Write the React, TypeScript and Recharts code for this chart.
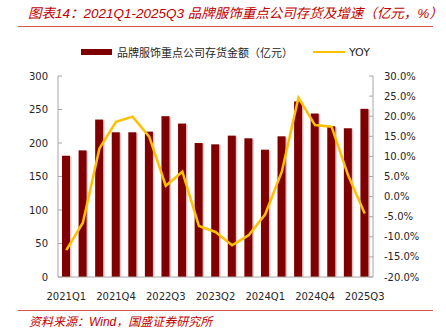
import { ComposedChart, Bar, Line, XAxis, YAxis } from 'recharts'

const quarters = [
  '2021Q1', '2021Q2', '2021Q3', '2021Q4', '2022Q1', '2022Q2', '2022Q3', '2022Q4',
  '2023Q1', '2023Q2', '2023Q3', '2023Q4', '2024Q1', '2024Q2', '2024Q3', '2024Q4',
  '2025Q1', '2025Q2', '2025Q3',
]
const inventory = [181, 189, 235, 216, 216, 217, 240, 229, 200, 198, 211, 207, 190, 210, 262, 244, 225, 222, 251]
const yoy = [-13.3, -6.5, 12.0, 18.6, 19.9, 14.9, 2.7, 6.2, -7.3, -8.8, -12.1, -9.6, -4.4, 6.2, 24.6, 17.8, 17.4, 5.3, -4.2]
const leftTicks = [0, 50, 100, 150, 200, 250, 300]
const rightTicks = [-20, -15, -10, -5, 0, 5, 10, 15, 20, 25, 30]

const BAR_NAME = '品牌服饰重点公司存货金额（亿元）'
const LINE_NAME = 'YOY'
const RED = '#C00000'
const BAR = '#7F0000'
const GOLD = '#FFC000'
const AXIS = '#A6A6A6'
const FONT = '"DejaVu Sans", Verdana, sans-serif'
const CJK = '"Noto Sans CJK SC", sans-serif'

const chartData = quarters.map((q, i) => ({ q, inv: inventory[i], yoy: yoy[i] }))

function ShadowBar(props: any) {
  const { x, y, width, height } = props
  if (!height || height <= 0) return null
  return (
    <g>
      <rect x={x + 1.5} y={y + 1} width={width} height={height - 1} fill="#E6C4C4" />
      <rect x={x} y={y} width={width} height={height} fill={BAR} />
    </g>
  )
}

export default function App() {
  const tick = { fontSize: 10, fill: '#262626', fontFamily: FONT }
  return (
    <div style={{ position: 'absolute', left: 0, top: 0, width: 446, height: 332, background: '#fff' }}>
      <div
        style={{
          position: 'absolute', left: 28, top: 2, fontSize: 13.5, fontStyle: 'italic', color: RED,
          fontFamily: `"Liberation Sans", ${CJK}`, whiteSpace: 'nowrap',
        }}
      >
        图表14：2021Q1-2025Q3 品牌服饰重点公司存货及增速（亿元，%）
      </div>
      <div style={{ position: 'absolute', left: 18, top: 26, width: 415, height: 1, background: '#D9534F' }} />

      <div style={{ position: 'absolute', left: 81, top: 44, height: 16, display: 'flex', alignItems: 'center', whiteSpace: 'nowrap' }}>
        <span style={{ display: 'inline-block', width: 31, height: 6, background: BAR }} />
        <span style={{ marginLeft: 5, fontSize: 11, fontFamily: CJK, color: '#262626' }}>{BAR_NAME}</span>
        <span style={{ display: 'inline-block', width: 32, height: 2.5, background: GOLD, marginLeft: 20 }} />
        <span style={{ marginLeft: 4, fontSize: 11, fontFamily: FONT, color: '#262626' }}>{LINE_NAME}</span>
      </div>

      <div style={{ position: 'absolute', left: 0, top: 0 }}>
        <ComposedChart width={446} height={332} data={chartData} margin={{ top: 76, right: 0, bottom: 30, left: 0 }}>
          <XAxis
            dataKey="q"
            interval={2}
            tick={tick}
            tickLine={false}
            tickMargin={10}
            axisLine={{ stroke: AXIS }}
            height={25}
          />
          <YAxis
            yAxisId="left"
            domain={[0, 300]}
            ticks={leftTicks}
            tick={tick}
            tickSize={-4}
            tickMargin={14}
            tickLine={{ stroke: AXIS }}
            axisLine={{ stroke: AXIS }}
            width={58}
          />
          <YAxis
            yAxisId="right"
            orientation="right"
            domain={[-20, 30]}
            ticks={rightTicks}
            tickFormatter={(v: number) => `${v.toFixed(1)}%`}
            tick={{ ...tick, textAnchor: 'start' }}
            tickSize={-4}
            tickMargin={15}
            tickLine={{ stroke: AXIS }}
            axisLine={{ stroke: AXIS }}
            width={73}
          />
          <Bar yAxisId="left" dataKey="inv" name={BAR_NAME} barSize={8} shape={ShadowBar} isAnimationActive={false} />
          <Line
            yAxisId="right"
            type="linear"
            dataKey="yoy"
            name={LINE_NAME}
            stroke={GOLD}
            strokeWidth={2.5}
            dot={false}
            isAnimationActive={false}
          />
        </ComposedChart>
      </div>

      <div style={{ position: 'absolute', left: 18, top: 310, width: 415, height: 1, background: '#D9534F' }} />
      <div
        style={{
          position: 'absolute', left: 29, top: 312, fontSize: 12, fontStyle: 'italic', color: RED,
          fontFamily: `"Liberation Sans", ${CJK}`, whiteSpace: 'nowrap',
        }}
      >
        资料来源：Wind，国盛证券研究所
      </div>
    </div>
  )
}
